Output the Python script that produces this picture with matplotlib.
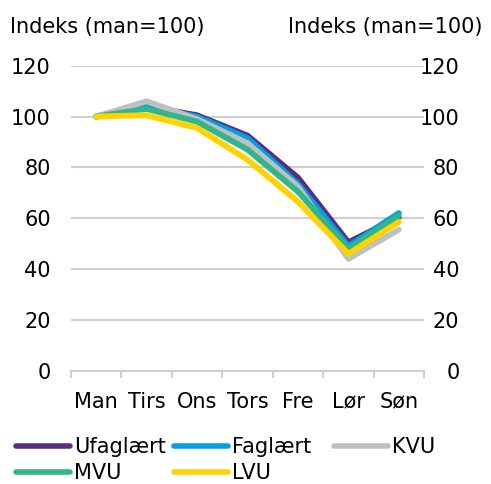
import matplotlib
matplotlib.use("Agg")
import matplotlib.pyplot as plt
import numpy as np

days = ["Man", "Tirs", "Ons", "Tors", "Fre", "Lør", "Søn"]
ufaglaert = [100, 104, 100.5, 92.5, 76, 50.5, 60.5]
faglaert = [100, 104, 100, 91.5, 73.5, 49, 62]
kvu = [100, 106, 99, 89.5, 72.5, 44, 55.5]
mvu = [100, 103, 98, 87, 70.5, 48, 61]
lvu = [100, 100.5, 95.5, 83, 66.5, 46, 58.5]
yticks = [0, 20, 40, 60, 80, 100, 120]
title = "Indeks (man=100)"

series = [
    ("Ufaglært", ufaglaert, "#5B2C83"),
    ("Faglært", faglaert, "#009FDF"),
    ("KVU", kvu, "#BFBFBF"),
    ("MVU", mvu, "#33B58C"),
    ("LVU", lvu, "#FFD300"),
]

plt.rcParams['font.family'] = ['DejaVu Sans']
FS = 15

fig = plt.figure(figsize=(4.91, 4.84), dpi=100)
ax = fig.add_axes([71/491, 1-370.7/484, (424-71)/491, (370.7-65.7)/484])

x = np.arange(len(days))
handles = {}
for name, vals, col in series:
    h, = ax.plot(x, vals, color=col, lw=4.2, solid_capstyle='round', solid_joinstyle='round', label=name)
    handles[name] = h

ax.set_xlim(-0.5, len(days) - 0.5)
ax.set_ylim(0, 120)
ax.set_yticks(yticks)
ax.yaxis.grid(True, color="#D0D0D0", lw=1.5)
ax.set_axisbelow(True)
for s in ["left", "right", "top"]:
    ax.spines[s].set_visible(False)
ax.spines["bottom"].set_color("#D0D0D0")
ax.spines["bottom"].set_linewidth(1.5)

ax.set_xticks(x)
ax.set_xticklabels(days)
ax.set_xticks(np.arange(-0.5, len(days)), minor=True)
ax.tick_params(axis='x', which='major', length=0, pad=15, labelsize=FS)
ax.tick_params(axis='x', which='minor', length=5, width=1.5, color="#D0D0D0", direction='out')
ax.tick_params(axis='y', which='both', length=0, pad=14.5, labelsize=FS)

ax2 = ax.twinx()
ax2.set_ylim(0, 120)
ax2.set_yticks(yticks)
for s in ["left", "right", "top", "bottom"]:
    ax2.spines[s].set_visible(False)
ax2.tick_params(axis='y', length=0, pad=25.5, labelsize=FS)
for lab in ax2.get_yticklabels():
    lab.set_horizontalalignment('right')

fig.text(10/491, 1-33/484, title, fontsize=FS, va='baseline', ha='left')
fig.text(482/491, 1-33/484, title, fontsize=FS, va='baseline', ha='right')

columns = [(["Ufaglært", "MVU"], 16), (["Faglært", "LVU"], 174), (["KVU"], 334)]
for names, xpx in columns:
    leg = fig.legend([handles[n] for n in names], names, loc='upper left',
                     bbox_to_anchor=(xpx/491, 1-437/484), frameon=False, fontsize=FS,
                     handlelength=2.6, handletextpad=0.2,
                     labelspacing=0.3, borderpad=0, borderaxespad=0)
    for ln in leg.get_lines():
        ln.set_linewidth(4)

fig.savefig("out.png", dpi=100)
